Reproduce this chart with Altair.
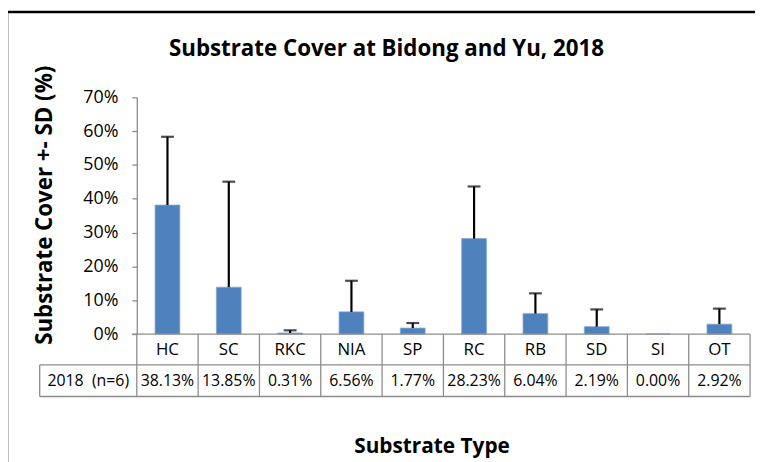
import altair as alt
import pandas as pd

categories = ["HC", "SC", "RKC", "NIA", "SP", "RC", "RB", "SD", "SI", "OT"]
means = [0.3813, 0.1385, 0.0031, 0.0656, 0.0177, 0.2823, 0.0604, 0.0219, 0.0000, 0.0292]
sds = [0.202, 0.312, 0.008, 0.092, 0.015, 0.154, 0.060, 0.051, 0.000, 0.046]
tick_values = [0.0, 0.1, 0.2, 0.3, 0.4, 0.5, 0.6, 0.7]
row_label = "2018\u00a0 (n=6)"
title_text = "Substrate Cover at Bidong and Yu, 2018"
y_title = "Substrate Cover +- SD (%)"
x_title = "Substrate Type"

FONT = "Open Sans"
BAR = "#4F81BD"
GRID = "#8C8C8C"

df = pd.DataFrame({"cat": categories, "value": means, "sd": sds})
df["upper"] = df["value"] + df["sd"]
df["label"] = [f"{v*100:.2f}%" for v in means]

W, H = 619, 239
x = alt.X("cat:N", sort=categories, axis=None,
          scale=alt.Scale(paddingInner=0, paddingOuter=0))
y_scale = alt.Scale(domain=[0, 0.7], nice=False, zero=True)
y_axis = alt.Axis(format=".0%", values=tick_values, tickCount=8,
                  labelOverlap=False, labelFlush=False,
                  title=None, grid=False, domainColor=GRID, tickColor=GRID,
                  tickSize=5, labelFontSize=18, labelFont=FONT, labelColor="#000",
                  labelPadding=14, domainWidth=1.3, tickWidth=1.3)

base = alt.Chart(df)

bars = base.mark_bar(color=BAR, size=25, stroke="#7FA6D6", strokeWidth=0.8).encode(
    x=x,
    y=alt.Y("value:Q", scale=y_scale, axis=y_axis),
)

err = base.transform_filter("datum.sd > 0").mark_rule(color="black", strokeWidth=2.2).encode(
    x=x, y=alt.Y("value:Q", scale=y_scale, axis=y_axis), y2="upper:Q"
)
caps = base.transform_filter("datum.sd > 0").mark_tick(color="black", size=13, thickness=2.2,
                                                       orient="horizontal").encode(
    x=x, y=alt.Y("upper:Q", scale=y_scale, axis=y_axis)
)

# data table
vlines = base.mark_rule(color=GRID, strokeWidth=1.3).encode(
    x=alt.X("cat:N", sort=categories, axis=None, bandPosition=0,
            scale=alt.Scale(paddingInner=0, paddingOuter=0)),
    y=alt.value(H), y2=alt.value(302)
)
one = pd.DataFrame({"k": [0]})
decor = alt.Chart(one)
right_line = decor.mark_rule(color=GRID, strokeWidth=1.3).encode(
    x=alt.value(W), y=alt.value(H), y2=alt.value(302))
left_line = decor.mark_rule(color=GRID, strokeWidth=1.3).encode(
    x=alt.value(-98), y=alt.value(270), y2=alt.value(302))
top_line = decor.mark_rule(color=GRID, strokeWidth=1.3).encode(
    x=alt.value(-5), x2=alt.value(W), y=alt.value(H))
mid_line = decor.mark_rule(color=GRID, strokeWidth=1.3).encode(
    x=alt.value(-98), x2=alt.value(W), y=alt.value(270))
bot_line = decor.mark_rule(color=GRID, strokeWidth=1.3).encode(
    x=alt.value(-98), x2=alt.value(W), y=alt.value(302))

cat_text = base.mark_text(font=FONT, fontSize=17, color="black", baseline="middle").encode(
    x=alt.X("cat:N", sort=categories, axis=None, bandPosition=0.5,
            scale=alt.Scale(paddingInner=0, paddingOuter=0)),
    y=alt.value(255), text="cat:N")
val_text = base.mark_text(font=FONT, fontSize=16, color="black", baseline="middle").encode(
    x=alt.X("cat:N", sort=categories, axis=None, bandPosition=0.5,
            scale=alt.Scale(paddingInner=0, paddingOuter=0)),
    y=alt.value(286), text="label:N")
row_text = decor.mark_text(font=FONT, fontSize=16, color="black", baseline="middle").encode(
    x=alt.value(-49), y=alt.value(286), text=alt.value(row_label))

title = decor.mark_text(font=FONT, fontSize=22.5, fontWeight="bold", color="black",
                        baseline="middle").encode(
    x=alt.value(252), y=alt.value(-49), text=alt.value(title_text))
ytitle = decor.mark_text(font=FONT, fontSize=22.5, fontWeight="bold", color="black",
                         baseline="middle", angle=270).encode(
    x=alt.value(-93), y=alt.value(109), text=alt.value(y_title))
xtitle = decor.mark_text(font=FONT, fontSize=21, fontWeight="bold", color="black",
                         baseline="middle").encode(
    x=alt.value(298), y=alt.value(353), text=alt.value(x_title))

frame = decor.mark_rect(fill=None, filled=False, stroke="black", strokeWidth=2.5).encode(
    x=alt.value(-131), x2=alt.value(800), y=alt.value(-86), y2=alt.value(600))

chart = alt.layer(
    frame, bars, err, caps, vlines, right_line, left_line, top_line, mid_line, bot_line,
    cat_text, val_text, row_text, title, ytitle, xtitle
).properties(
    width=W, height=H,
    autosize=alt.AutoSizeParams(type="none"),
    padding={"left": 130, "top": 88, "right": 5, "bottom": 127},
    background="white",
).configure_view(stroke=None)

chart.save("out.html", embed_options={"renderer": "svg", "actions": False})
